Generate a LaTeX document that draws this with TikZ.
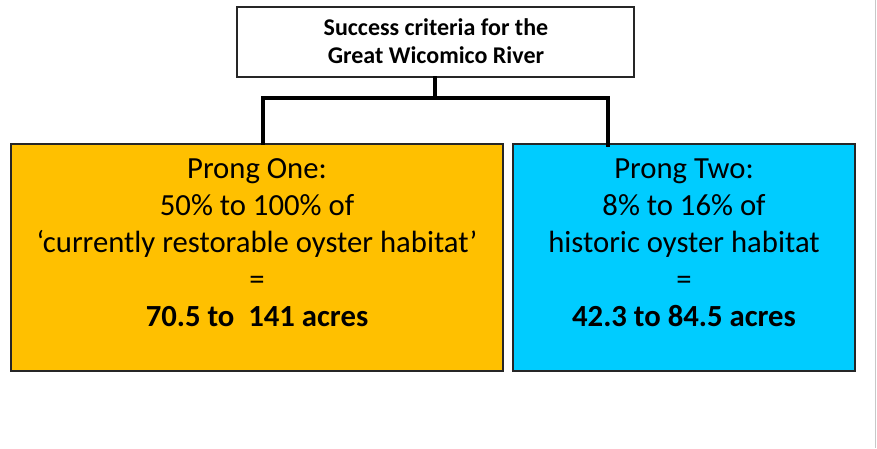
\documentclass[tikz,border=0pt]{standalone}
\usepackage{fontspec}
\setmainfont{Carlito}
\definecolor{prongorange}{HTML}{FFC000}
\definecolor{prongblue}{HTML}{00CCFF}
\definecolor{edgegray}{HTML}{C8C8C8}
\begin{document}
\begin{tikzpicture}[x=1pt,y=-1pt,
  box/.style={draw=black!85, line width=1.5pt, inner sep=0pt},
  boxtext/.style={align=center, font=\fontsize{30.7}{37}\selectfont, inner sep=0pt},
  link/.style={line width=4pt, line cap=rect}]
  \useasboundingbox (0,0) rectangle (877,448);
  \fill[white] (0,0) rectangle (877,448);
  \draw[edgegray, line width=1.5pt] (875.5,0) -- (875.5,448);

  % title box
  \node[box, fill=white, minimum width=397pt, minimum height=70pt] (top) at (435.5,42) {};
  \node[align=center, inner sep=0pt, font=\bfseries\fontsize{24}{28}\selectfont] (toptext) at (436,41)
    {Success criteria for the\\Great Wicomico River};

  % the two prongs
  \node[box, fill=prongorange, minimum width=492pt, minimum height=227pt] (one) at (257,257.5) {};
  \node[boxtext] (onetext) at (257,243)
    {Prong One:\\50\% to 100\% of\\‘currently restorable oyster habitat’\\=\\\textbf{70.5 to\ \ 141 acres}};

  \node[box, fill=prongblue, minimum width=342pt, minimum height=227pt] (two) at (684,257.5) {};
  \node[boxtext] (twotext) at (684,243)
    {Prong Two:\\8\% to 16\% of\\historic oyster habitat\\=\\\textbf{42.3 to 84.5 acres}};

  % connectors
  \coordinate (split) at (435,97.5);
  \coordinate (lft) at (263,97.5);
  \coordinate (rgt) at (608,97.5);
  \draw[link] (top.south -| split) -- (split);
  \draw[link] (lft) -- (rgt);
  \draw[link] (lft) -- (lft |- one.north);
  \draw[link] (rgt) -- ([yshift=-2pt]rgt |- two.north);
\end{tikzpicture}
\end{document}
